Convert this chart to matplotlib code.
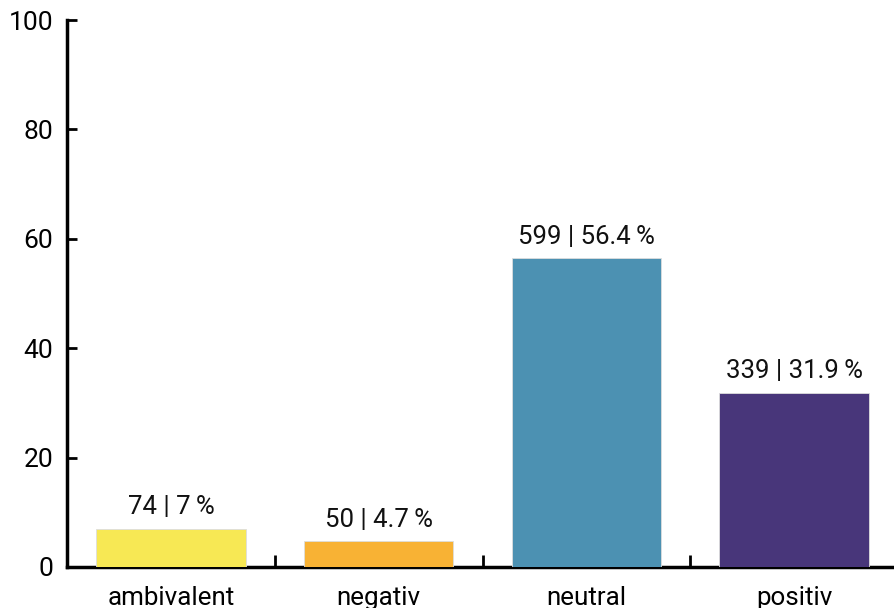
import matplotlib
matplotlib.use("Agg")
import matplotlib.pyplot as plt

categories = ["ambivalent", "negativ", "neutral", "positiv"]
counts = [74, 50, 599, 339]
percents = [7, 4.7, 56.4, 31.9]
colors = ["#F7E854", "#F8B234", "#4C91B2", "#48367A"]
yticks = [0, 20, 40, 60, 80, 100]

plt.rcParams['font.family'] = ['Roboto', 'DejaVu Sans']

fig = plt.figure(figsize=(8.94, 6.08), dpi=100)
ax = fig.add_axes([67/894, 41/608, (898-67)/894, 547/608])

x = list(range(len(categories)))
ax.bar(x, percents, width=0.72, color=colors, edgecolor="#dddddd", linewidth=0.6, zorder=2)

for xi, c, p in zip(x, counts, percents):
    ax.annotate(f"{c} | {p:g}\u2009%", (xi, p), xytext=(0, 7), textcoords="offset points",
                ha="center", va="bottom", fontsize=18.5, color="#111111")

ax.set_xlim(-0.5, 3.5)
ax.set_ylim(0, 100)
ax.set_yticks(yticks)
ax.set_yticklabels([str(v) for v in yticks], fontsize=19)
ax.tick_params(axis="y", direction="in", length=7, width=2, pad=10)

ax.set_xticks([0.5, 1.5, 2.5], minor=False)
ax.set_xticklabels([])
ax.tick_params(axis="x", direction="in", length=9, width=2)
ax.set_xticks(x, minor=True)
ax.set_xticklabels(categories, minor=True, fontsize=18.7)
ax.tick_params(axis="x", which="minor", length=0, pad=14)

for s in ["top", "right"]:
    ax.spines[s].set_visible(False)
for s in ["left", "bottom"]:
    ax.spines[s].set_linewidth(2.5)
    ax.spines[s].set_color("black")
ax.spines["left"].set_zorder(3)
ax.spines["bottom"].set_zorder(1)

fig.savefig("out.png", dpi=100)
